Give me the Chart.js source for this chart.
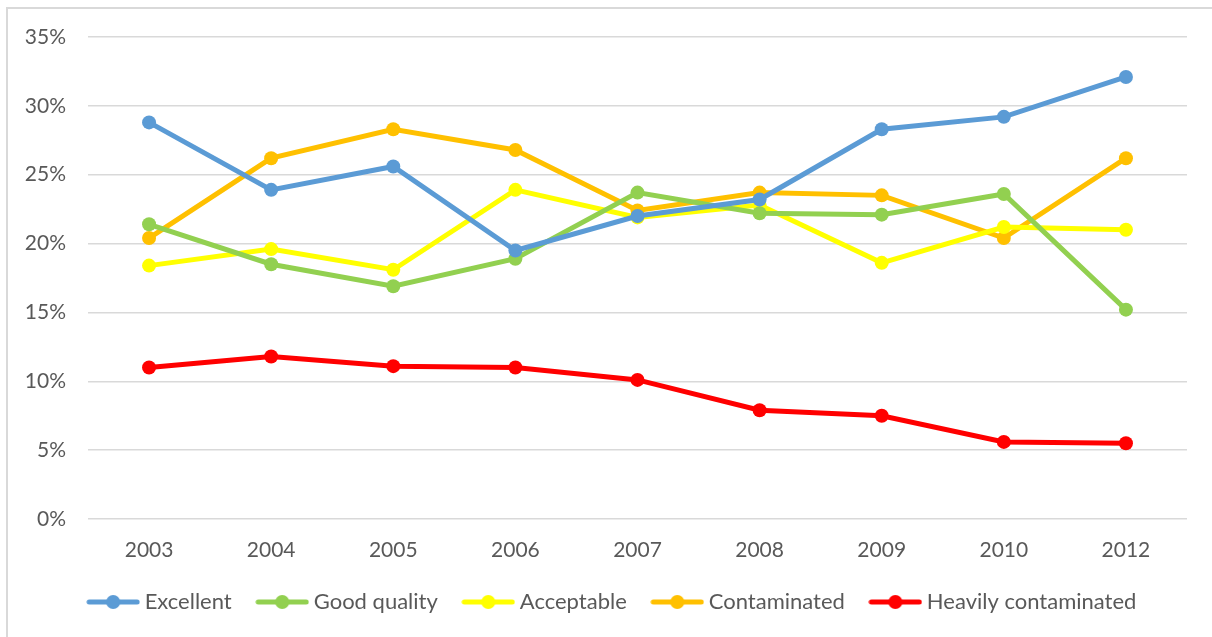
<!DOCTYPE html>
<html>
<head>
<meta charset="utf-8">
<script src="https://cdn.jsdelivr.net/npm/chart.js@4.4.0/dist/chart.umd.min.js"></script>
<style>
  html, body { margin: 0; padding: 0; background: #fff; }
  #wrap { position: relative; width: 1212px; height: 637px; overflow: hidden; }
  #frame { position: absolute; left: 6px; top: 7px; width: 1300px; height: 700px; border: 2px solid #d9d9d9; box-sizing: border-box; }
  #myChart { position: absolute; left: 0; top: 0; }
</style>
</head>
<body>
<div id="wrap">
  <div id="frame"></div>
  <canvas id="myChart" width="1212" height="637"></canvas>
</div>
<script>
'use strict';

let years = ['2003', '2004', '2005', '2006', '2007', '2008', '2009', '2010', '2012'];
let excellent = [28.8, 23.9, 25.6, 19.5, 22.0, 23.2, 28.3, 29.2, 32.1];
let goodQuality = [21.4, 18.5, 16.9, 18.9, 23.7, 22.2, 22.1, 23.6, 15.2];
let acceptable = [18.4, 19.6, 18.1, 23.9, 21.9, 22.8, 18.6, 21.2, 21.0];
let contaminated = [20.4, 26.2, 28.3, 26.8, 22.4, 23.7, 23.5, 20.4, 26.2];
let heavily = [11.0, 11.8, 11.1, 11.0, 10.1, 7.9, 7.5, 5.6, 5.5];
let yTicks = [0, 5, 10, 15, 20, 25, 30, 35];

let fontName = 'Lato';
let textColor = '#595959';

// small picture for the legend: line with a dot in the middle
function legendMarker(color) {
    let c = document.createElement('canvas');
    c.width = 54;
    c.height = 18;
    let ctx = c.getContext('2d');
    ctx.strokeStyle = color;
    ctx.lineWidth = 5;
    ctx.lineCap = 'round';
    ctx.beginPath();
    ctx.moveTo(3, 9);
    ctx.lineTo(51, 9);
    ctx.stroke();
    ctx.fillStyle = color;
    ctx.beginPath();
    ctx.arc(27, 9, 7, 0, Math.PI * 2);
    ctx.fill();
    return c;
}

function makeSet(label, data, color) {
    return {
        label: label,
        data: data,
        borderColor: color,
        backgroundColor: color,
        borderWidth: 5,
        pointRadius: 7,
        pointHoverRadius: 7,
        pointBorderWidth: 0,
        pointStyle: 'circle',
        tension: 0,
        fill: false,
        legendImg: legendMarker(color)
    };
}

let datasets = [
    makeSet('Excellent', excellent, '#5B9BD5'),
    makeSet('Good quality', goodQuality, '#92D050'),
    makeSet('Acceptable', acceptable, '#FFFF00'),
    makeSet('Contaminated', contaminated, '#FFC000'),
    makeSet('Heavily contaminated', heavily, '#FF0000')
];

// move the legend a little to the right, like the original
let legendShift = {
    id: 'legendShift',
    afterLayout: function (chart) {
        chart.legend.left += 21;
        chart.legend.right += 21;
    }
};

let ctx = document.getElementById('myChart').getContext('2d');
let myChart = new Chart(ctx, {
    type: 'line',
    data: {
        labels: years,
        datasets: datasets
    },
    plugins: [legendShift],
    options: {
        responsive: false,
        animation: false,
        layout: {
            padding: { left: 0, top: 37, right: 25, bottom: 14 }
        },
        scales: {
            x: {
                offset: true,
                grid: { display: false, drawTicks: false },
                border: { display: false },
                ticks: {
                    color: textColor,
                    font: { family: fontName, size: 21 },
                    padding: 19
                },
                afterFit: function (axis) { axis.height = 42; }
            },
            y: {
                min: 0,
                max: 35,
                afterBuildTicks: function (axis) {
                    axis.ticks = yTicks.map(function (v) { return { value: v }; });
                },
                grid: { color: '#d9d9d9', lineWidth: 1.5, drawTicks: false },
                border: { display: false },
                ticks: {
                    color: textColor,
                    font: { family: fontName, size: 21 },
                    padding: 22,
                    callback: function (v) { return v + '%'; }
                },
                afterFit: function (axis) { axis.width = 88; }
            }
        },
        plugins: {
            tooltip: { enabled: false },
            legend: {
                position: 'bottom',
                labels: {
                    color: textColor,
                    font: { family: fontName, size: 22 },
                    usePointStyle: true,
                    pointStyleWidth: 41,
                    padding: 30,
                    generateLabels: function (chart) {
                        return chart.data.datasets.map(function (ds, i) {
                            return {
                                text: ds.label,
                                fillStyle: ds.borderColor,
                                strokeStyle: ds.borderColor,
                                fontColor: textColor,
                                lineWidth: 0,
                                pointStyle: ds.legendImg,
                                datasetIndex: i,
                                hidden: false
                            };
                        });
                    }
                }
            }
        }
    }
});
</script>
</body>
</html>
